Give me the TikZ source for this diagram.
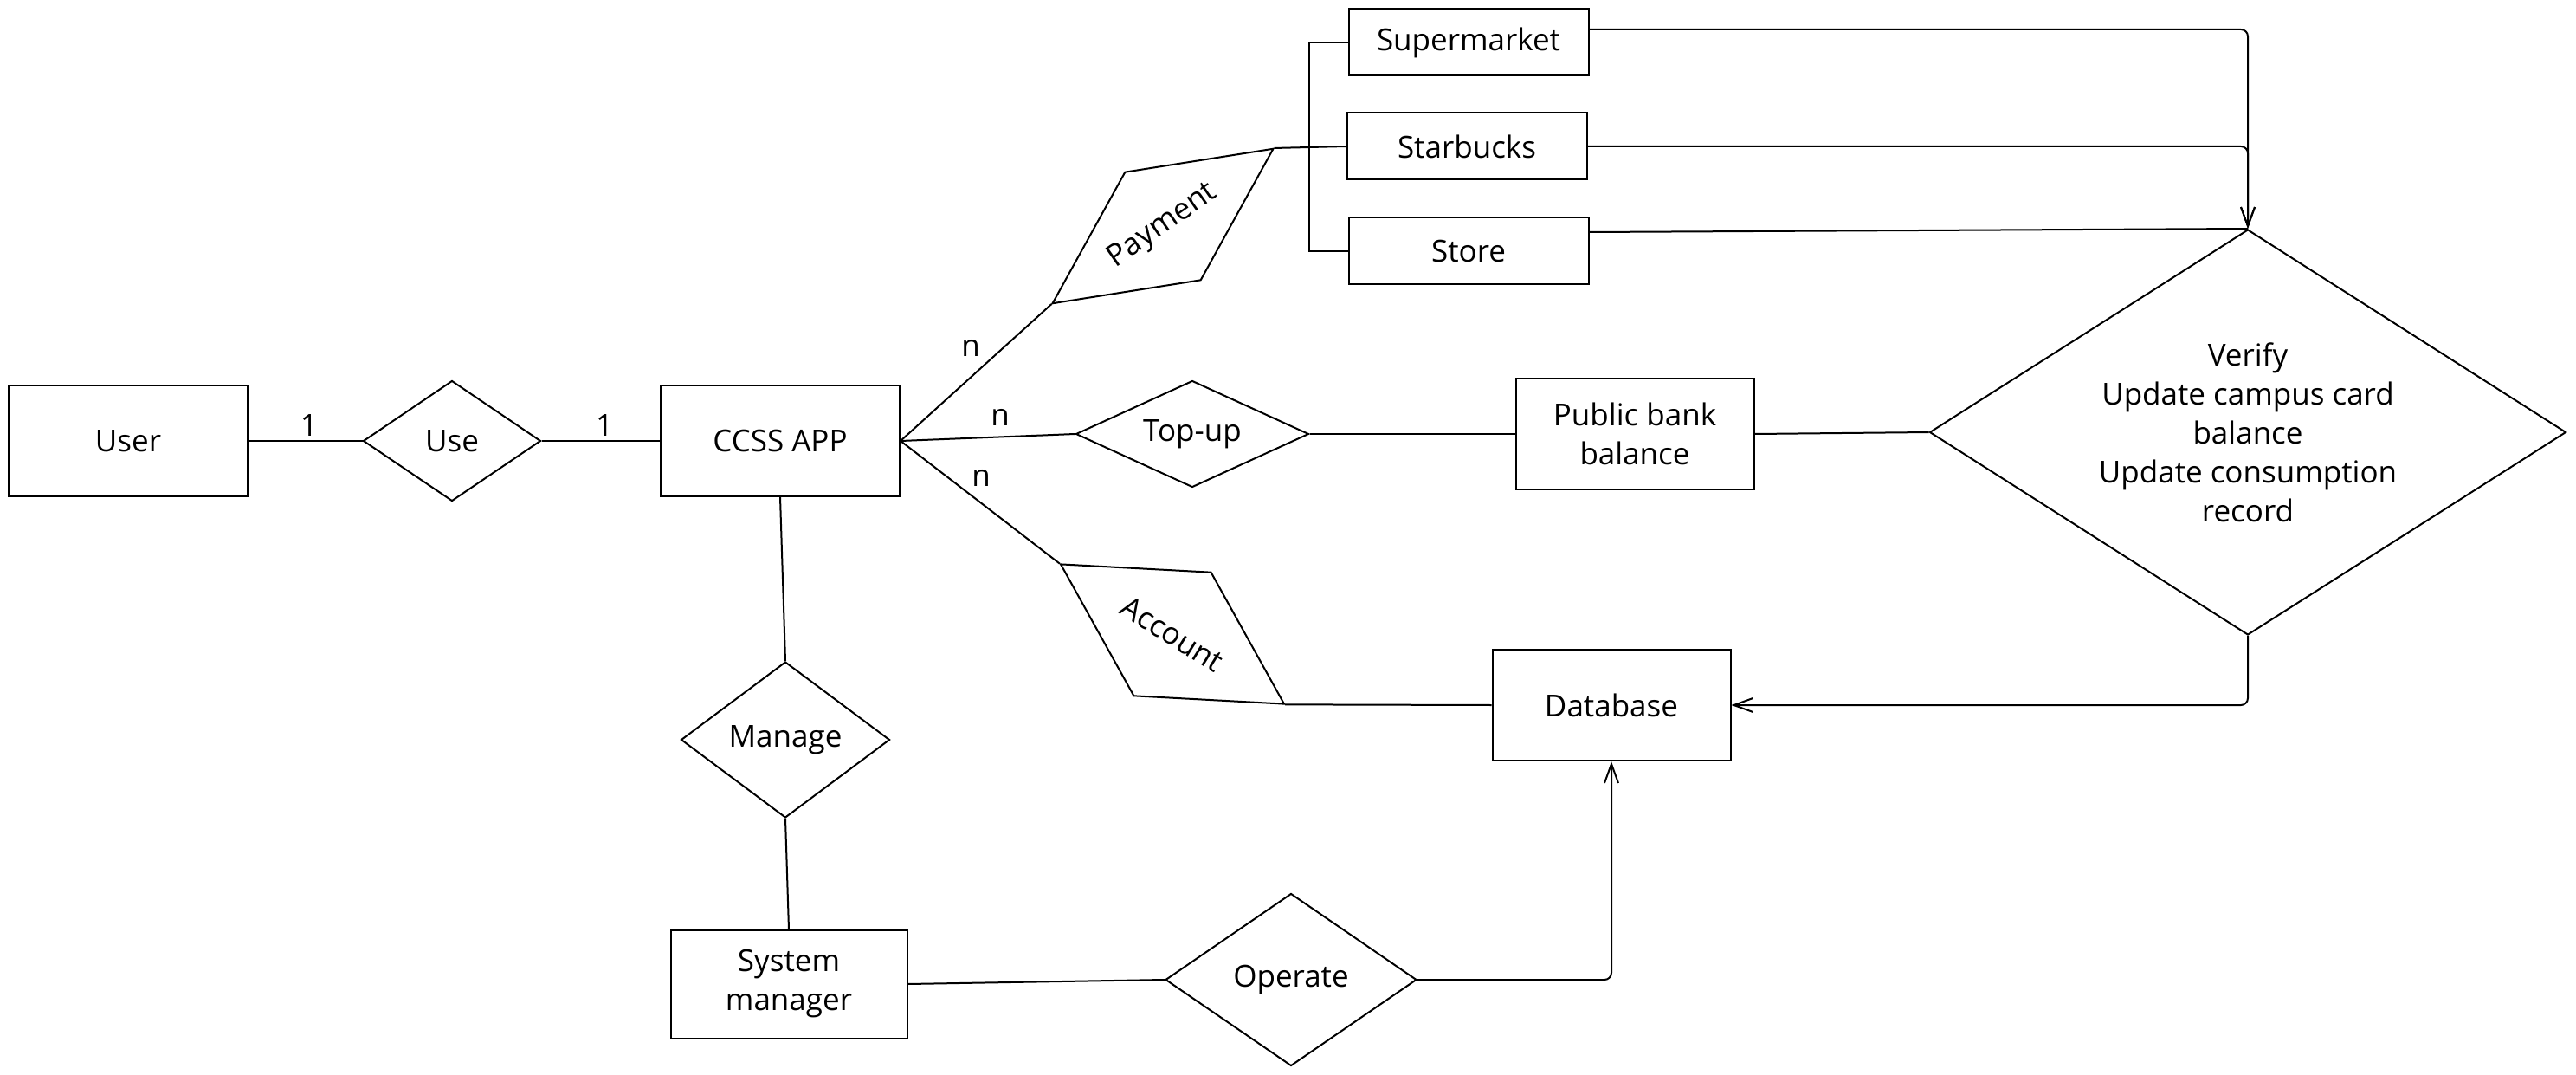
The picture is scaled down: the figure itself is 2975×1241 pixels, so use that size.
\documentclass[tikz,border=0pt]{standalone}
\usepackage{fontspec}
\setmainfont{Open Sans}
\usetikzlibrary{shapes.geometric}
\usetikzlibrary{arrows.meta}

\tikzset{
  entity/.style={rectangle, draw, minimum width=276pt, minimum height=128pt, align=center},
  shop/.style={rectangle, draw, minimum width=277pt, minimum height=77pt},
  rel/.style={diamond, draw, inner sep=0pt, aspect=2, align=center},
  label font/.style={font=\fontsize{35}{45}\selectfont},
  flow/.style={-{Straight Barb[length=22pt,width=16pt]}, rounded corners=8pt},
}

\begin{document}
\begin{tikzpicture}[x=1pt, y=-1pt, label font]
\useasboundingbox (0,0) rectangle (2975,1241);
\begin{scope}[line width=2pt]

  % user and app
  \node[entity] (user) at (148,509) {User};
  \node[rel, minimum width=205pt, minimum height=139pt] (use) at (522,509) {Use};
  \node[entity] (app) at (901,509) {CCSS APP};

  \draw (user) -- (use) -- (app);
  \node (oneuser) at (357,491) {1};
  \node (oneapp) at (698,491) {1};

  % payment branch
  \node[rel, rotate=35, minimum width=312pt, minimum height=153pt] (pay) at (1343,261) {Payment};
  \node[shop] (sup) at (1696,49) {Supermarket};
  \node[shop] (star) at (1694,169) {Starbucks};
  \node[shop] (store) at (1696,290) {Store};
  \coordinate (fork) at (1512,170);

  \draw (app.east) -- (pay.west);
  \draw (pay.east) -- (star.west);
  \draw (sup.west) -| (fork) |- (store.west);
  \node (npay) at (1121,402) {n};

  % top-up branch
  \node[rel, minimum width=269pt, minimum height=123pt] (topup) at (1377,501) {Top-up};
  \node[entity, minimum width=275pt] (bank) at (1888,501) {Public bank\\balance};

  \draw (app.east) -- (topup.west);
  \draw (topup) -- (bank);
  \node (ntop) at (1155,482) {n};

  % account branch
  \node[rel, rotate=-32, minimum width=305pt, minimum height=169pt] (acct) at (1354,732) {Account};
  \node[entity, minimum width=275pt] (db) at (1861,814) {Database};

  \draw (app.east) -- (acct.west);
  \draw (acct.east) -- (db.west);
  \node (nacct) at (1133,552) {n};

  % verification
  \node[rel, aspect=1.57, minimum width=735pt, minimum height=468pt] (verify) at (2596,499)
       {Verify\\Update campus card\\balance\\Update consumption\\record};

  \draw (bank.east) -- (verify.west);
  \draw[flow] ([yshift=15pt]sup.east) -| (verify.north);
  \draw[flow] (star.east) -| (verify.north);
  \draw ([yshift=22pt]store.east) -- (verify.north);
  \draw[flow] (verify.south) |- (db.east);

  % system manager
  \node[rel, minimum width=241pt, minimum height=180pt] (manage) at (907,854) {Manage};
  \node[entity, minimum width=273pt, minimum height=125pt] (sysman) at (911,1136) {System\\manager};
  \node[rel, minimum width=290pt, minimum height=199pt] (operate) at (1491,1131) {Operate};

  \draw (app.south) -- (manage.north);
  \draw (manage.south) -- (sysman.north);
  \draw (sysman.east) -- (operate.west);
  \draw[flow] (operate.east) -| (db.south);

\end{scope}
\end{tikzpicture}
\end{document}
